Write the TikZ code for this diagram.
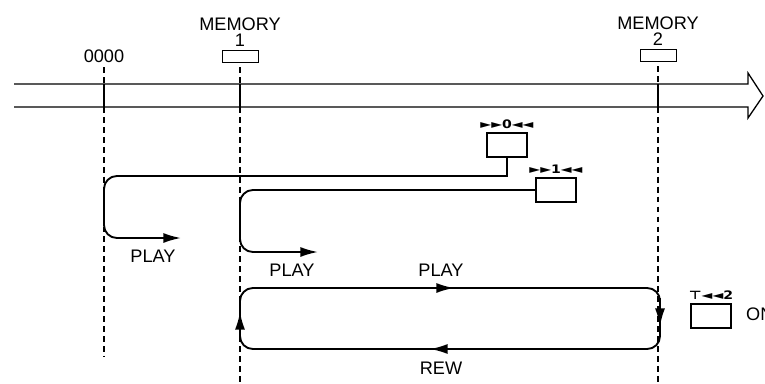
\documentclass[tikz,border=0pt]{standalone}
\usepackage{fontspec}
\setmainfont{Liberation Sans}
\newfontfamily\keyfont{DejaVu Sans}
\usetikzlibrary{arrows.meta,positioning}

\begin{document}
\begin{tikzpicture}[x=0.03cm, y=-0.03cm,
    lbl/.style={font=\fontsize{15.5}{17}\selectfont, inner sep=0pt},
    keylbl/.style={font=\keyfont\bfseries\fontsize{10}{10}\selectfont, inner sep=0pt, xscale=1.2},
    keybox/.style={draw, line width=1pt, minimum width=1.2cm, minimum height=0.72cm, inner sep=0pt},
    membox/.style={draw, line width=0.8pt, minimum width=1.08cm, minimum height=0.36cm, inner sep=0pt},
    tape/.style={line width=1.1pt},
    guide/.style={line width=0.9pt, dash pattern=on 5pt off 3.5pt},
    route/.style={line width=1.6pt},
    headtip/.style={-{Latex[length=15pt,width=8.5pt]}}]
    \useasboundingbox (0,0) rectangle (765,383);

    \coordinate (tapetop) at (0,84);
    \coordinate (tapebot) at (0,107);
    \draw[tape] (14,84) -- (748,84) -- (748,73) -- (763,96) -- (748,118) -- (748,107) -- (14,107);

    \node[lbl] (zero) at (104,56) {0000};
    \node[membox] (mem1) at (240,56) {};
    \node[lbl, above=2pt of mem1] (mem1no) {1};
    \node[lbl, above=3pt of mem1no] (mem1lbl) {MEMORY};
    \node[membox] (mem2) at (658,55) {};
    \node[lbl, above=2pt of mem2] (mem2no) {2};
    \node[lbl, above=3pt of mem2no] (mem2lbl) {MEMORY};

    \foreach \m/\e in {zero/356, mem1/383, mem2/383} {
      \draw[guide] ([yshift=-4pt]\m.south) -- (\m |- tapetop);
      \draw[tape] (\m |- tapetop) -- (\m |- tapebot);
      \draw[guide] (\m |- tapebot) -- (\m |- 0,\e);
    }

    \node[keybox] (key0) at (507,145) {};
    \node[keylbl, above=3pt of key0] (key0lbl) {►►0◄◄};
    \node[keybox] (key1) at (556,190) {};
    \node[keylbl, above=3pt of key1] (key1lbl) {►►1◄◄};
    \node[keybox] (key2) at (711,316) {};
    \node[keylbl, above=3pt of key2] (key2lbl) {⊤◄◄2};
    \node[lbl, anchor=west] (on) at (746,314) {ON};

    \draw[route, headtip] (key0.south) -- (key0.south |- 0,176) [rounded corners=11pt] -- (zero |- 0,176) -- (zero |- 0,238) [sharp corners] -- (181,238);
    \node[lbl] (play0) at (153,256) {PLAY};
    \draw[route, headtip] (key1.west) [rounded corners=11pt] -- (mem1 |- key1.west) -- (mem1 |- 0,252) [sharp corners] -- (318,252);
    \node[lbl] (play1) at (292,270) {PLAY};

    \coordinate (looptl) at (240,288);
    \coordinate (loopbr) at (660,349);
    \draw[route, rounded corners=11pt] (looptl) rectangle (loopbr);
    \draw[route, headtip] (400,288) -- (454,288);
    \draw[route, headtip] (660,298) -- (660,326);
    \draw[route, headtip] (480,349) -- (430,349);
    \draw[route, headtip] (240,340) -- (240,312);
    \node[lbl] (play2) at (441,270) {PLAY};
    \node[lbl] (rew) at (441,368) {REW};
\end{tikzpicture}
\end{document}
